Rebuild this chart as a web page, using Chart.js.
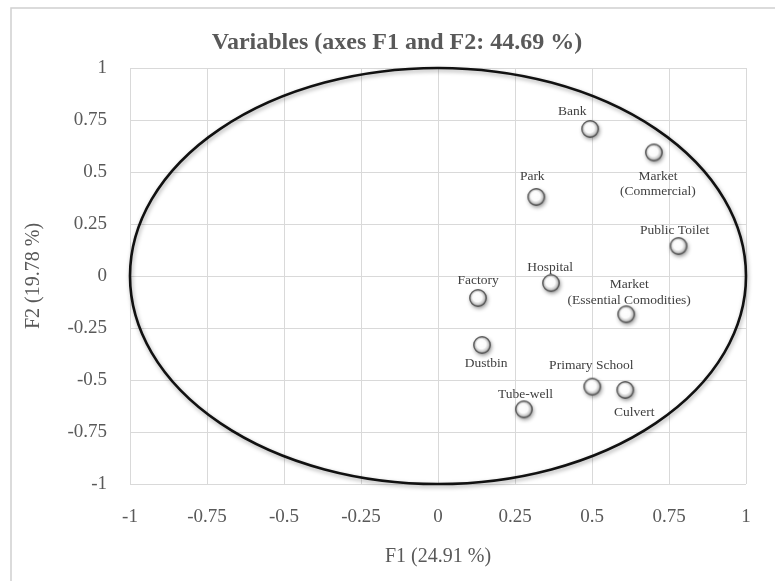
<!DOCTYPE html>
<html>
<head>
<meta charset="utf-8">
<script src="https://cdn.jsdelivr.net/npm/chart.js@4.4.1/dist/chart.umd.min.js"></script>
<style>
  html, body { margin: 0; padding: 0; background: #fff; }
  canvas { display: block; }
</style>
</head>
<body>
<canvas id="pcaChart" width="775" height="581"></canvas>
<script>
// variables and their loadings on F1 / F2
var variables = ['Bank', 'Market (Commercial)', 'Park', 'Public Toilet', 'Hospital', 'Factory',
  'Market (Essential Comodities)', 'Dustbin', 'Primary School', 'Culvert', 'Tube-well'];
var f1 = [0.494, 0.701, 0.319, 0.781, 0.367, 0.130, 0.611, 0.143, 0.501, 0.608, 0.279];
var f2 = [0.707, 0.594, 0.380, 0.144, -0.034, -0.106, -0.184, -0.332, -0.532, -0.548, -0.641];
var tickValues = [-1, -0.75, -0.5, -0.25, 0, 0.25, 0.5, 0.75, 1];
var chartTitle = 'Variables (axes F1 and F2: 44.69 %)';

// label text lines and where they sit relative to their marker (px)
var labelLines = [['Bank'], ['Market', '(Commercial)'], ['Park'], ['Public Toilet'], ['Hospital'], ['Factory'],
  ['Market', '(Essential Comodities)'], ['Dustbin'], ['Primary School'], ['Culvert'], ['Tube-well']];
var labelOffsets = [[-18, -17], [4, 24], [-4, -21], [-4, -16], [-1, -16], [0, -18],
  [3, -29.5], [4, 18], [-1, -21], [9, 22], [1.5, -15]];

var SERIF = '"Liberation Serif", "Times New Roman", serif';
var GREY = '#595959';

// white glossy ball used as the point style
function makeBall() {
  var c = document.createElement('canvas');
  c.width = 30; c.height = 30;
  var g = c.getContext('2d');
  g.save();
  g.shadowColor = 'rgba(0,0,0,0.45)';
  g.shadowBlur = 4;
  g.shadowOffsetX = 1;
  g.shadowOffsetY = 2;
  var grad = g.createRadialGradient(13.5, 13, 0, 15, 15, 8.5);
  grad.addColorStop(0, '#ffffff');
  grad.addColorStop(0.55, '#fbfbfb');
  grad.addColorStop(0.8, '#c8c8c8');
  grad.addColorStop(1, '#505050');
  g.fillStyle = grad;
  g.beginPath();
  g.arc(15, 15, 8.5, 0, Math.PI * 2);
  g.fill();
  g.restore();
  g.strokeStyle = '#5a5a5a';
  g.lineWidth = 1.2;
  g.beginPath();
  g.arc(15, 15, 8.3, 0, Math.PI * 2);
  g.stroke();
  return c;
}

var frame = {
  id: 'frame',
  beforeDraw: function(chart) {
    var ctx = chart.ctx;
    ctx.save();
    ctx.fillStyle = '#fff';
    ctx.fillRect(0, 0, chart.width, chart.height);
    ctx.strokeStyle = '#d0d0d0';
    ctx.lineWidth = 1.5;
    ctx.strokeRect(11, 8, chart.width + 20, chart.height + 20);
    // chart title, centred like the original (not on the plot area)
    ctx.font = 'bold 24px ' + SERIF;
    ctx.fillStyle = GREY;
    ctx.textAlign = 'center';
    ctx.textBaseline = 'middle';
    ctx.fillText(chartTitle, 397, 43);
    ctx.restore();
  }
};

// correlation circle, sized by the axes
var corrCircle = {
  id: 'corrCircle',
  beforeDatasetsDraw: function(chart) {
    var x = chart.scales.x, y = chart.scales.y, ctx = chart.ctx;
    var cx = x.getPixelForValue(0), cy = y.getPixelForValue(0);
    var rx = x.getPixelForValue(1) - cx, ry = cy - y.getPixelForValue(1);
    ctx.save();
    ctx.shadowColor = 'rgba(0,0,0,0.35)';
    ctx.shadowBlur = 4;
    ctx.shadowOffsetX = 1;
    ctx.shadowOffsetY = 2;
    ctx.strokeStyle = '#111';
    ctx.lineWidth = 2.6;
    ctx.beginPath();
    ctx.ellipse(cx, cy, rx, ry, 0, 0, Math.PI * 2);
    ctx.stroke();
    ctx.restore();
  }
};

var pointLabels = {
  id: 'pointLabels',
  afterDatasetsDraw: function(chart) {
    var ctx = chart.ctx;
    var meta = chart.getDatasetMeta(0);
    ctx.save();
    ctx.font = '13.5px ' + SERIF;
    ctx.fillStyle = '#404040';
    ctx.textAlign = 'center';
    ctx.textBaseline = 'middle';
    meta.data.forEach(function(pt, i) {
      var off = labelOffsets[i];
      labelLines[i].forEach(function(line, j) {
        ctx.fillText(line, pt.x + off[0], pt.y + off[1] + j * 15.5);
      });
    });
    ctx.restore();
  }
};

var points = variables.map(function(v, i) { return { x: f1[i], y: f2[i] }; });
var fixTicks = function(s) { s.ticks = tickValues.map(function(v) { return { value: v }; }); };
var fmt = function(v) { return String(v); };

new Chart(document.getElementById('pcaChart'), {
  type: 'scatter',
  data: {
    datasets: [{
      label: 'Variables',
      data: points,
      pointStyle: makeBall(),
      pointRadius: 9,
      pointHoverRadius: 9
    }]
  },
  options: {
    responsive: false,
    animation: false,
    layout: { padding: { top: 68, right: 29, bottom: 0, left: 0 } },
    scales: {
      x: {
        type: 'linear', min: -1, max: 1,
        afterBuildTicks: fixTicks,
        afterFit: function(s) { s.height = 97; },
        grid: { color: '#d9d9d9', drawTicks: false },
        border: { display: false },
        ticks: { padding: 22, color: GREY, font: { family: SERIF, size: 19 }, callback: fmt },
        title: { display: true, text: 'F1 (24.91 %)', color: GREY, font: { family: SERIF, size: 20 }, padding: { top: 0, bottom: 12 } }
      },
      y: {
        type: 'linear', min: -1, max: 1,
        afterBuildTicks: fixTicks,
        afterFit: function(s) { s.width = 130; },
        grid: { color: '#d9d9d9', drawTicks: false },
        border: { display: false },
        ticks: { padding: 23, color: GREY, font: { family: SERIF, size: 19 }, callback: fmt },
        title: { display: true, text: 'F2 (19.78 %)', color: GREY, font: { family: SERIF, size: 20 }, padding: { top: 22, bottom: 0 } }
      }
    },
    plugins: {
      legend: { display: false },
      tooltip: { enabled: false },
      title: { display: false }
    }
  },
  plugins: [frame, corrCircle, pointLabels]
});
</script>
</body>
</html>
